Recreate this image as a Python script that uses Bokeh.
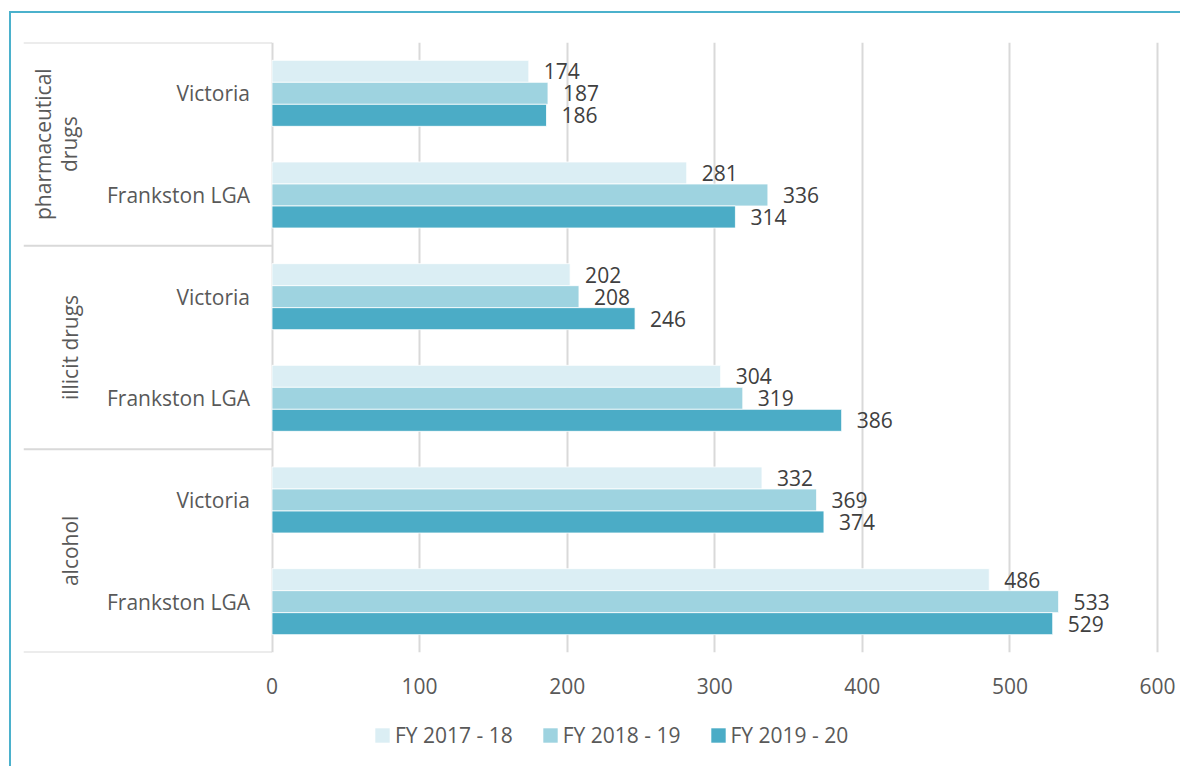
import math
from bokeh.plotting import figure
from bokeh.layouts import column
from bokeh.models import Range1d, FixedTicker, Legend, LegendItem
from bokeh.embed import file_html
from bokeh.resources import INLINE
from bokeh.core.properties import value

# ---------------- data ----------------
groups = ["pharmaceutical\ndrugs", "illicit drugs", "alcohol"]
areas = ["Victoria", "Frankston LGA"]
series = ["FY 2017 - 18", "FY 2018 - 19", "FY 2019 - 20"]
# rows in order: pharma/Victoria, pharma/Frankston, illicit/Victoria, illicit/Frankston, alcohol/Victoria, alcohol/Frankston
fy_2017_18 = [174, 281, 202, 304, 332, 486]
fy_2018_19 = [187, 336, 208, 319, 369, 533]
fy_2019_20 = [186, 314, 246, 386, 374, 529]
x_ticks = [0, 100, 200, 300, 400, 500, 600]
colors = ["#DBEEF4", "#9ED3E0", "#4BACC6"]

# ---------------- layout (page px) ----------------
OX, OY = 11, 13                     # canvas origin on page (after border)
FRAME_X0, FRAME_Y0, FRAME_Y1 = 23, 42, 652
MAIN_Y1 = 710                       # bottom of main canvas on page
LEG_Y1 = 766                        # bottom of legend canvas on page
CW = 1180 - OX
PX_PER_UNIT = (1157 - 271.5) / 600.0
X_START = -(271.5 - FRAME_X0) / PX_PER_UNIT
X_END = X_START + (OX + CW - FRAME_X0) / PX_PER_UNIT
FONT = value("Open Sans")

n_rows = len(groups) * len(areas)
row_labels = [a for g in groups for a in areas]
row_centers = [i + 0.5 for i in range(n_rows)]
group_centers = [len(areas) * j + len(areas) / 2 for j in range(len(groups))]
boundaries = [len(areas) * j for j in range(len(groups) + 1)]

p = figure(width=CW, height=MAIN_Y1 - OY, output_backend="svg",
           toolbar_location=None,
           x_range=Range1d(X_START, X_END), y_range=Range1d(n_rows, 0),
           min_border_left=FRAME_X0 - OX, min_border_right=0,
           min_border_top=FRAME_Y0 - OY, min_border_bottom=MAIN_Y1 - FRAME_Y1)
p.outline_line_color = None
p.yaxis.visible = False
p.ygrid.visible = False
p.xgrid.ticker = FixedTicker(ticks=x_ticks)
p.xgrid.grid_line_color = "#D9D9D9"
p.xgrid.grid_line_width = 2
ax = p.xaxis[0]
ax.ticker = FixedTicker(ticks=x_ticks)
ax.axis_line_color = None
ax.major_tick_line_color = None
ax.minor_tick_line_color = None
ax.major_tick_out = 0
ax.major_tick_in = 0
ax.minor_tick_out = 0
ax.major_label_standoff = 25
ax.major_label_text_font = "Open Sans"
ax.major_label_text_font_size = "21px"
ax.major_label_text_color = "#595959"

# separators in category area
p.segment(x0=[X_START] * len(boundaries), x1=[0] * len(boundaries),
          y0=boundaries, y1=boundaries, line_color="#D9D9D9", line_width=2)

bar_h = 0.2164
for k, vals in enumerate([fy_2017_18, fy_2018_19, fy_2019_20]):
    ys = [c + (k - 1) * bar_h for c in row_centers]
    p.hbar(y=ys, left=0, right=vals, height=bar_h, fill_color=colors[k],
           line_color="white", line_width=0.8)
    p.text(x=vals, y=ys, text=[str(v) for v in vals], x_offset=15,
           text_align="left", text_baseline="middle", text_font=FONT,
           text_font_size="21px", text_color="#404040")

# category labels
p.text(x=[0] * n_rows, y=row_centers, text=row_labels, x_offset=-22,
       text_align="right", text_baseline="middle", text_font=FONT,
       text_font_size="21px", text_color="#595959")
# group labels (rotated)
p.text(x=[-188.5 / PX_PER_UNIT] * len(groups), y=group_centers, text=groups,
       angle=math.pi / 2, text_align="center", text_baseline="bottom",
       text_font=FONT, text_font_size="21px", text_color="#595959",
       text_line_height=0.95)

# ---------------- legend strip ----------------
lg = figure(width=CW, height=LEG_Y1 - MAIN_Y1, output_backend="svg",
            toolbar_location=None, x_range=Range1d(0, 1), y_range=Range1d(0, 1),
            min_border_left=FRAME_X0 - OX, min_border_right=0,
            min_border_top=0, min_border_bottom=0)
lg.outline_line_color = None
lg.axis.visible = False
lg.grid.visible = False
# legend proxies: one zero-length bar each, outside the visible range
leg_renderers = [lg.hbar(y=[5], left=[0], right=[0], height=0.1, fill_color=c,
                         line_color=None) for c in colors]
legend = Legend(items=[LegendItem(label=s, renderers=[r], index=0)
                       for s, r in zip(series, leg_renderers)],
                orientation="horizontal", location=(373 - FRAME_X0, 17),
                glyph_width=18, glyph_height=18, label_standoff=4, spacing=28,
                padding=0, margin=0, border_line_color=None, background_fill_alpha=0,
                label_text_font="Open Sans", label_text_font_size="21px",
                label_text_color="#595959")
lg.add_layout(legend, "center")

layout = column(p, lg, spacing=0)
layout.margin = (OY - 2, 0, 0, OX - 2)
layout.styles = {"border-left": "2px solid #4BB1CC", "border-top": "2px solid #4BB1CC"}

open("out.html", "w").write(file_html(layout, INLINE))
